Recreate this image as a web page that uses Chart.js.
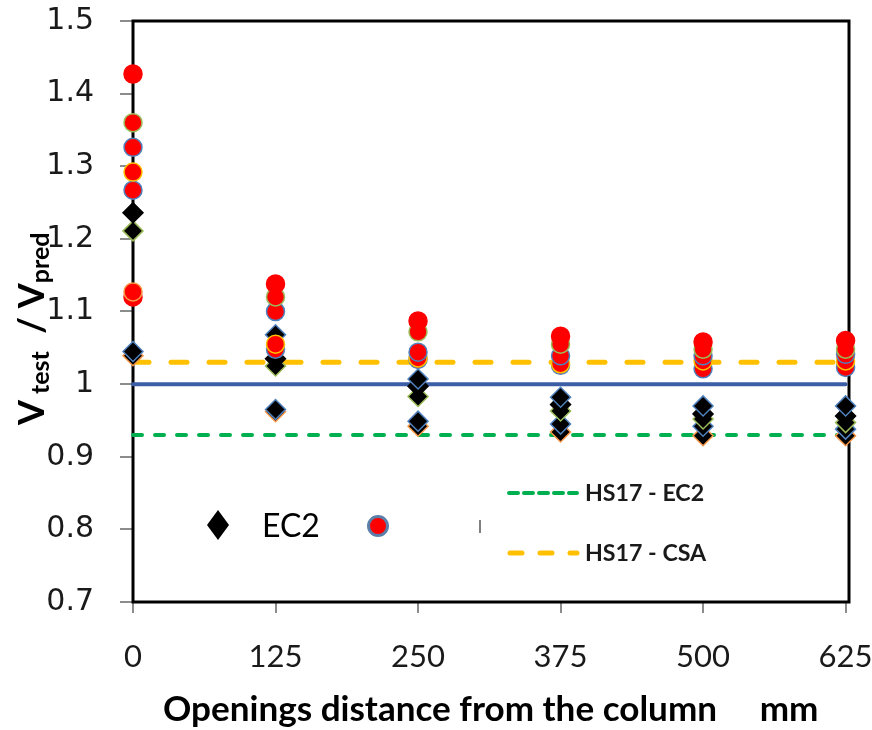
<!DOCTYPE html>
<html>
<head>
<meta charset="utf-8">
<script src="https://cdn.jsdelivr.net/npm/chart.js@4.4.1/dist/chart.umd.min.js"></script>
<style>
  body { margin: 0; background: #ffffff; }
  #wrap { width: 872px; height: 730px; }
</style>
</head>
<body>
<div id="wrap"><canvas id="chart" width="872" height="730"></canvas></div>
<script>
// opening distance from the column face, mm
const distances = [0, 125, 250, 375, 500, 625];
const xTicks = [0, 125, 250, 375, 500, 625];

// Vtest / Vpred, CSA predictions (red circles)
const csa1 = [1.427, 1.138, 1.087, 1.066, 1.058, 1.060];
const csa2 = [1.360, 1.120, 1.072, 1.055, 1.048, 1.048];
const csa3 = [1.326, 1.100, 1.044, 1.039, 1.039, 1.041];
const csa4 = [1.292, 1.055, 1.036, 1.028, 1.032, 1.032];
const csa5 = [1.267, 1.048, 1.034, 1.026, 1.021, 1.023];
const csa6 = [1.127, null, null, null, null, null];
const csa7 = [1.120, null, null, null, null, null];

// Vtest / Vpred, EC2 predictions (black diamonds)
const ec2a = [1.045, 1.068, 1.007, 0.982, 0.970, 0.970];
const ec2b = [1.236, 1.035, 0.997, 0.972, 0.959, 0.956];
const ec2c = [1.211, 1.025, 0.983, 0.963, 0.952, 0.947];
const ec2d = [null, 0.965, 0.949, 0.945, 0.942, 0.938];
const ec2e = [1.039, 0.962, 0.942, 0.934, 0.929, 0.929];

// reference levels
const unityLevel = 1.0;
const hs17Csa = 1.03;
const hs17Ec2 = 0.93;

const COLORS = {
    red: "#ff0000",
    blue: "#4f81bd",
    green: "#9bbb59",
    orange: "#f79646",
    yellow: "#ffc000",
    lineBlue: "#3b5ea6",
    lineGreen: "#00b050",
    lineOrange: "#ffc000",
};

function pts(values) {
    const out = [];
    for (let i = 0; i < distances.length; i++) {
        if (values[i] !== null) out.push({ x: distances[i], y: values[i] });
    }
    return out;
}

function flat(y) {
    return [{ x: distances[0], y: y }, { x: distances[distances.length - 1], y: y }];
}

function circles(values, edge) {
    return {
        data: pts(values),
        pointStyle: "circle",
        pointRadius: 9,
        backgroundColor: COLORS.red,
        borderColor: edge,
        borderWidth: 1.5,
        showLine: false,
        clip: false,
    };
}

function diamonds(values, edge) {
    return {
        data: pts(values),
        pointStyle: "rectRot",
        pointRadius: 10,
        backgroundColor: "#000000",
        borderColor: edge,
        borderWidth: 1.5,
        showLine: false,
        clip: false,
    };
}

function refLine(y, color, width, dash) {
    return {
        data: flat(y),
        showLine: true,
        pointRadius: 0,
        borderColor: color,
        borderWidth: width,
        borderDash: dash,
        borderCapStyle: "round",
        fill: false,
        clip: false,
    };
}

// first dataset is drawn on top
const datasets = [
    circles(csa1, COLORS.red),
    circles(csa2, COLORS.green),
    circles(csa3, COLORS.blue),
    circles(csa4, COLORS.yellow),
    circles(csa5, COLORS.blue),
    circles(csa6, COLORS.orange),
    circles(csa7, COLORS.red),
    diamonds(ec2a, COLORS.blue),
    diamonds(ec2b, "#000000"),
    diamonds(ec2c, COLORS.green),
    diamonds(ec2d, COLORS.blue),
    diamonds(ec2e, COLORS.orange),
    refLine(unityLevel, COLORS.lineBlue, 4, []),
    refLine(hs17Csa, COLORS.lineOrange, 5, [16, 22]),
    refLine(hs17Ec2, COLORS.lineGreen, 4, [9, 13]),
];

const framePlugin = {
    id: "frame",
    beforeDatasetsDraw(chart) {
        const a = chart.chartArea;
        const ctx = chart.ctx;
        ctx.save();
        ctx.strokeStyle = "#000000";
        ctx.lineWidth = 3;
        ctx.strokeRect(a.left, a.top, a.right - a.left, a.bottom - a.top);
        ctx.restore();
    },
};

// fit a string into a given width by picking the font size
function fitFont(ctx, text, weight, family, width) {
    ctx.font = weight + " 30px " + family;
    const size = (30 * width) / ctx.measureText(text).width;
    return weight + " " + size.toFixed(1) + "px " + family;
}

const textPlugin = {
    id: "texts",
    afterDraw(chart) {
        const ctx = chart.ctx;
        ctx.save();
        ctx.fillStyle = "#000000";

        // x axis title
        const xTitle = "Openings distance from the column     mm";
        ctx.font = fitFont(ctx, xTitle, "bold", "Lato", 655);
        ctx.textAlign = "left";
        ctx.textBaseline = "alphabetic";
        ctx.fillText(xTitle, 163, 721);

        // y axis title with subscripts, rotated
        ctx.save();
        ctx.translate(44, 425);
        ctx.rotate(-Math.PI / 2);
        ctx.textAlign = "left";
        const parts = [
            ["V", "bold 36px Lato", 0],
            ["test", "bold 25px Lato", 5],
            ["  / V", "bold 36px Lato", 0],
            ["pred", "bold 25px Lato", 5],
        ];
        let px = 0;
        for (const p of parts) {
            ctx.font = p[1];
            ctx.fillText(p[0], px, p[2]);
            px += ctx.measureText(p[0]).width + (p[0] === "V" ? 6 : 0);
        }
        ctx.restore();

        // legend
        ctx.beginPath();
        ctx.moveTo(218, 510);
        ctx.lineTo(229, 525);
        ctx.lineTo(218, 540);
        ctx.lineTo(207, 525);
        ctx.closePath();
        ctx.fillStyle = "#000000";
        ctx.fill();
        ctx.font = "32px Lato";
        ctx.textAlign = "left";
        ctx.textBaseline = "middle";
        ctx.fillText("EC2", 262, 527);

        ctx.beginPath();
        ctx.arc(378, 526, 9.5, 0, Math.PI * 2);
        ctx.fillStyle = COLORS.red;
        ctx.fill();
        ctx.lineWidth = 3;
        ctx.strokeStyle = "#5b7fa8";
        ctx.stroke();

        ctx.strokeStyle = "#555555";
        ctx.lineWidth = 1.5;
        ctx.beginPath();
        ctx.moveTo(480, 520);
        ctx.lineTo(480, 533);
        ctx.stroke();

        ctx.lineCap = "round";
        ctx.lineWidth = 4;
        ctx.strokeStyle = COLORS.lineGreen;
        ctx.setLineDash([9, 6]);
        ctx.beginPath();
        ctx.moveTo(509, 493);
        ctx.lineTo(577, 493);
        ctx.stroke();

        ctx.lineWidth = 5;
        ctx.strokeStyle = COLORS.lineOrange;
        ctx.setLineDash([12, 18]);
        ctx.beginPath();
        ctx.moveTo(510, 553);
        ctx.lineTo(577, 553);
        ctx.stroke();
        ctx.setLineDash([]);

        ctx.fillStyle = "#1a1a1a";
        ctx.font = fitFont(ctx, "HS17 - EC2", "bold", "Lato", 119);
        ctx.fillText("HS17 - EC2", 585, 494);
        ctx.fillText("HS17 - CSA", 585, 554);
        ctx.restore();
    },
};

new Chart(document.getElementById("chart"), {
    type: "scatter",
    data: { datasets: datasets },
    options: {
        responsive: false,
        animation: false,
        events: [],
        layout: { padding: { left: 0, top: 21, right: 23, bottom: 0 } },
        plugins: {
            legend: { display: false },
            tooltip: { enabled: false },
        },
        scales: {
            x: {
                type: "linear",
                min: 0,
                max: 628,
                afterBuildTicks(scale) {
                    scale.ticks = xTicks.map((v) => ({ value: v }));
                },
                afterFit(scale) {
                    scale.height = 128;
                    scale.paddingLeft = 0;
                    scale.paddingRight = 0;
                },
                grid: {
                    drawOnChartArea: false,
                    drawTicks: true,
                    tickLength: 11,
                    color: "#8c8c8c",
                    lineWidth: 2,
                },
                border: { display: false },
                ticks: {
                    color: "#1a1a1a",
                    font: { family: "Lato", size: 31 },
                    padding: 25,
                    maxRotation: 0,
                    callback: (v) => String(v),
                },
            },
            y: {
                min: 0.7,
                max: 1.5,
                afterFit(scale) {
                    scale.width = 133;
                    scale.paddingTop = 0;
                    scale.paddingBottom = 0;
                },
                grid: {
                    drawOnChartArea: false,
                    drawTicks: true,
                    tickLength: 13,
                    color: "#8c8c8c",
                    lineWidth: 2,
                },
                border: { display: false },
                ticks: {
                    stepSize: 0.1,
                    color: "#1a1a1a",
                    font: { family: "DejaVu Sans", size: 30 },
                    padding: 26,
                    callback: (v) => String(Number(v.toFixed(1))),
                },
            },
        },
    },
    plugins: [framePlugin, textPlugin],
});
</script>
</body>
</html>
